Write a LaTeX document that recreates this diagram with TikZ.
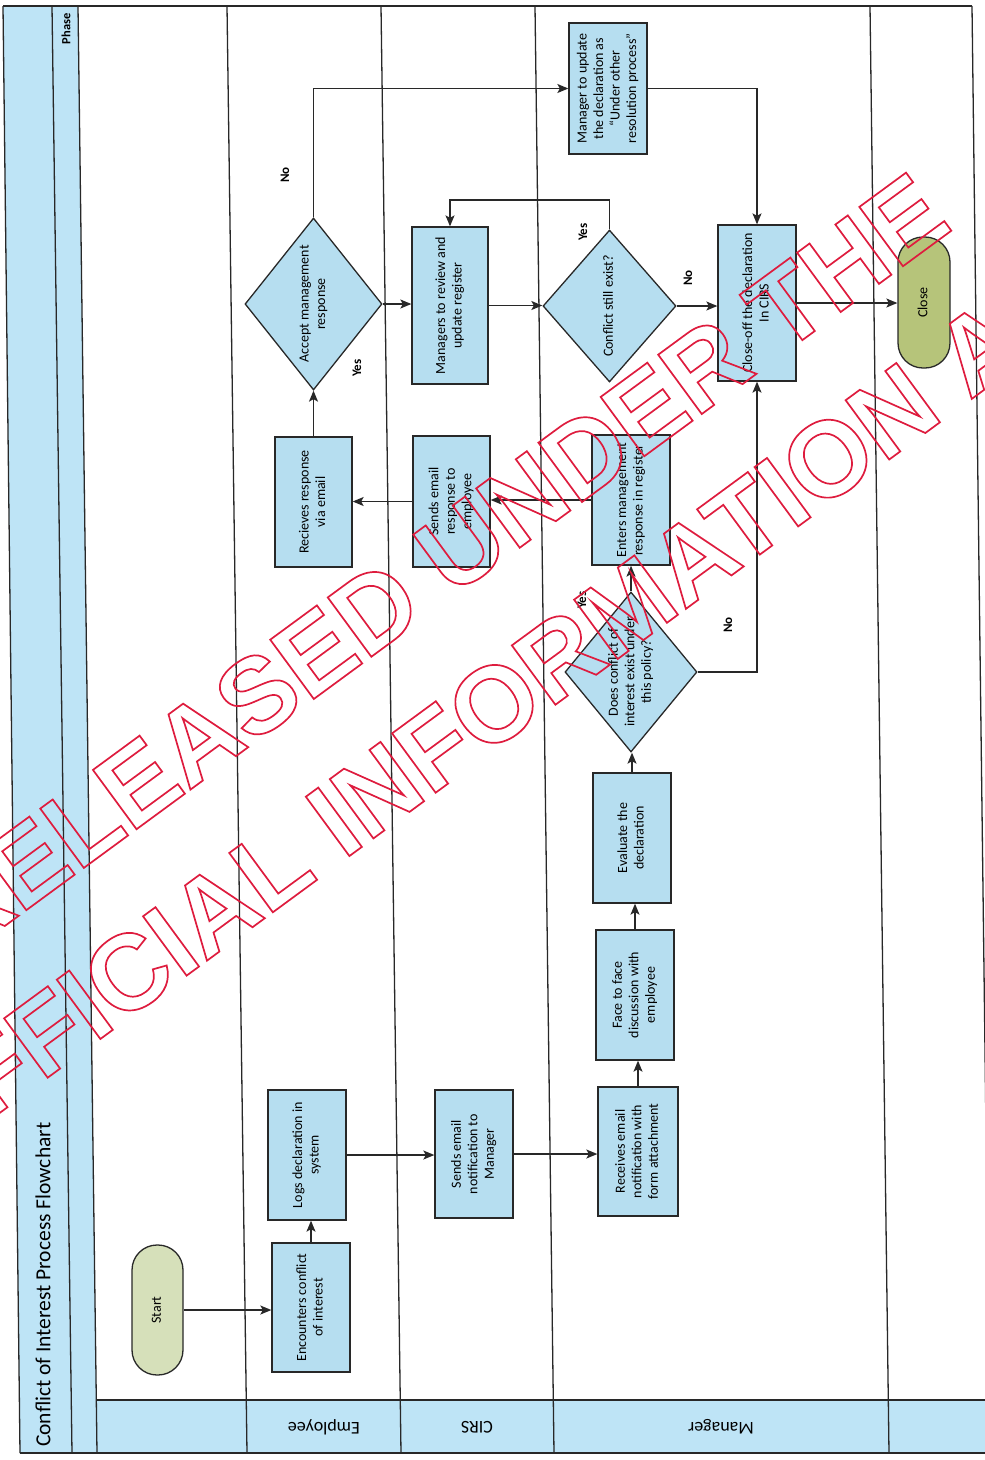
\documentclass[tikz,border=0pt]{standalone}
\usepackage{fontspec}
\setmainfont{Carlito}
\newfontfamily\wmfont{Liberation Sans}
\usetikzlibrary{arrows.meta,shapes.geometric}
\definecolor{boxblue}{RGB}{182,222,240}
\definecolor{bandblue}{RGB}{190,228,246}
\definecolor{startgreen}{RGB}{214,224,186}
\definecolor{closegreen}{RGB}{182,196,122}
\definecolor{linegray}{RGB}{40,40,40}
\definecolor{wmred}{RGB}{222,28,62}
\newcommand{\rt}[1]{\rotatebox{90}{\begin{tabular}{@{}c@{}}#1\end{tabular}}}
\newcommand{\outlinetext}[1]{\special{pdf:literal direct 1 Tr 1.7 w 0.871 0.110 0.243 RG}#1\special{pdf:literal direct 0 Tr}}
\begin{document}
\begin{tikzpicture}[x=1pt,y=-1pt,
  boxtxt/.style={font=\fontsize{14}{16.5}\selectfont},
  proc/.style={boxtxt, draw=linegray, line width=1.3pt, fill=boxblue, inner sep=1pt},
  decision/.style={shape=diamond, draw=linegray, line width=1.3pt, fill=boxblue, inner sep=0pt},
  dtext/.style={boxtxt, inner sep=0pt},
  terminal/.style={boxtxt, draw=linegray, line width=1.3pt, rounded corners=25pt, inner sep=1pt},
  arr/.style={draw=linegray, line width=1.3pt, -{Stealth[length=11pt,width=9pt,inset=2.5pt]}},
  lbl/.style={font=\bfseries\fontsize{13}{15}\selectfont, rotate=90, inner sep=0pt},
  lane/.style={draw=linegray, line width=1.3pt},
  lanename/.style={font=\fontsize{18}{20}\selectfont, rotate=180, inner sep=0pt},
  wm/.style={rotate=36.3, text=wmred, inner sep=0pt, font=\wmfont\bfseries\fontsize{107}{107}\selectfont}
]
\useasboundingbox (0,0) rectangle (985,1460);

% background bands
\fill[bandblue] (3,6) -- (52,6) -- (72,1453) -- (20,1453) -- cycle;
\fill[bandblue] (52,6) -- (78,6) -- (97,1453) -- (72,1453) -- cycle;
\fill[bandblue] (96,1400) rectangle (990,1453);

% frame and lanes
\draw[lane] (3,6) -- (972,6);
\draw[lane] (20,1453) -- (990,1453);
\draw[lane] (96,1400) -- (990,1400);
\draw[lane] (3,6) -- (20,1453);
\draw[lane] (52,6) -- (72,1453);
\draw[lane] (78,6) -- (97,1453);
\draw[lane] (227,6) -- (247,1453);
\draw[lane] (381,6) -- (401,1453);
\draw[lane] (535,6) -- (554,1453);
\draw[lane] (870,6) -- (889,1453);
\draw[lane] (972,6) -- (990,1453);

% titles
\node[rotate=90, anchor=west, font=\fontsize{21.5}{23}\selectfont, inner sep=0pt] (title) at (43,1447) {Conflict of Interest Process Flowchart};
\node[rotate=90, anchor=east, font=\bfseries\fontsize{12.5}{14}\selectfont, inner sep=0pt] (phase) at (66,13) {Phase};
\node[lanename] (lemp) at (324,1427) {Employee};
\node[lanename] (lcirs) at (477,1427) {CIRS};
\node[lanename] (lman) at (721,1427) {Manager};

% nodes
\node[terminal, fill=startgreen, minimum width=51pt, minimum height=130pt] (start) at (157.5,1310) {\rt{Start}};
\node[proc, minimum width=78pt, minimum height=129pt] (enc) at (311,1307.5) {\rt{Encounters conflict\\of interest}};
\node[proc, minimum width=78pt, minimum height=130pt] (logs) at (307,1155) {\rt{Logs declaration in\\system}};
\node[proc, minimum width=78pt, minimum height=128pt] (snotif) at (474,1154) {\rt{Sends email\\notification to\\Manager}};
\node[proc, minimum width=80pt, minimum height=129pt] (recv) at (638,1151.5) {\rt{Receives email\\notification with\\form attachment}};
\node[proc, minimum width=78pt, minimum height=130pt] (face) at (635,995) {\rt{Face to face\\discussion with\\employee}};
\node[proc, minimum width=78pt, minimum height=130pt] (eval) at (632,838) {\rt{Evaluate the\\declaration}};
\node[decision, minimum width=132pt, minimum height=160pt] (does) at (631,672) {};
\node[dtext] (doesT) at (631,672) {\rt{Does conflict of\\interest exist under\\this policy?}};
\node[proc, minimum width=78pt, minimum height=130pt] (enters) at (631,500) {\rt{Enters management\\response in register}};
\node[proc, minimum width=77pt, minimum height=131pt] (sresp) at (451.5,501.5) {\rt{Sends email\\response to\\employee}};
\node[proc, minimum width=77pt, minimum height=130pt] (rcv) at (313.5,502) {\rt{Recieves response\\via email}};
\node[decision, minimum width=137pt, minimum height=172pt] (accept) at (313.5,304) {};
\node[dtext] (acceptT) at (313.5,304) {\rt{Accept management\\response}};
\node[proc, minimum width=76pt, minimum height=157pt] (review) at (450,305.5) {\rt{Managers to review and\\update register}};
\node[decision, minimum width=133pt, minimum height=152pt] (still) at (609.5,306) {};
\node[dtext] (stillT) at (609.5,306) {\rt{Conflict still exist?}};
\node[proc, minimum width=78pt, minimum height=131pt] (mupdate) at (608,88.5) {\rt{Manager to update\\the declaration as\\“Under other\\resolution process”}};
\node[proc, minimum width=78pt, minimum height=156pt] (closeoff) at (757,303) {\rt{Close-off the declaration\\In CIRS}};
\node[terminal, fill=closegreen, minimum width=52pt, minimum height=131pt] (close) at (924,302.5) {\rt{Close}};

\coordinate (loopY) at (0,200);

% connectors
\draw[arr] (start.east) -- (start.east -| enc.west);
\draw[arr] (enc.north) -- (enc.north |- logs.south);
\draw[arr] (logs.east) -- (logs.east -| snotif.west);
\draw[arr] (snotif.east) -- (snotif.east -| recv.west);
\draw[arr] (recv.north) -- (recv.north |- face.south);
\draw[arr] (face.north) -- (face.north |- eval.south);
\draw[arr] (eval.north) -- (eval.north |- does.south);
\draw[arr] (does.north) -- (does.north |- enters.south);
\draw[arr] (does.east) -| (closeoff.south);
\draw[arr] (enters.west) -- (enters.west -| sresp.east);
\draw[arr] (sresp.west) -- (sresp.west -| rcv.east);
\draw[arr] (rcv.north) -- (rcv.north |- accept.south);
\draw[arr] (accept.east) -- (accept.east -| review.west);
\draw[arr] (accept.north) |- (mupdate.west);
\draw[arr] (review.east) -- (review.east -| still.west);
\draw[arr] (still.north) -- (still.north |- loopY) -| (review.north);
\draw[arr] (still.east) -- (still.east -| closeoff.west);
\draw[arr] (mupdate.east) -| (closeoff.north);
\draw[arr] (closeoff.east) -- (closeoff.east -| close.west);

% labels
\node[lbl] (l1) at (285,175) {No};
\node[lbl] (l2) at (357,368) {Yes};
\node[lbl] (l3) at (583,232) {Yes};
\node[lbl] (l4) at (688,278) {No};
\node[lbl] (l5) at (582,600) {Yes};
\node[lbl] (l6) at (728,625) {No};

% watermark
\node[wm, anchor=base east] (wm1) at (955,228) {\outlinetext{RELEASED UNDER THE}};
\node[wm, anchor=base west] (wm2) at (-78,1170) {\outlinetext{OFFICIAL INFORMATION ACT}};
\end{tikzpicture}
\end{document}
